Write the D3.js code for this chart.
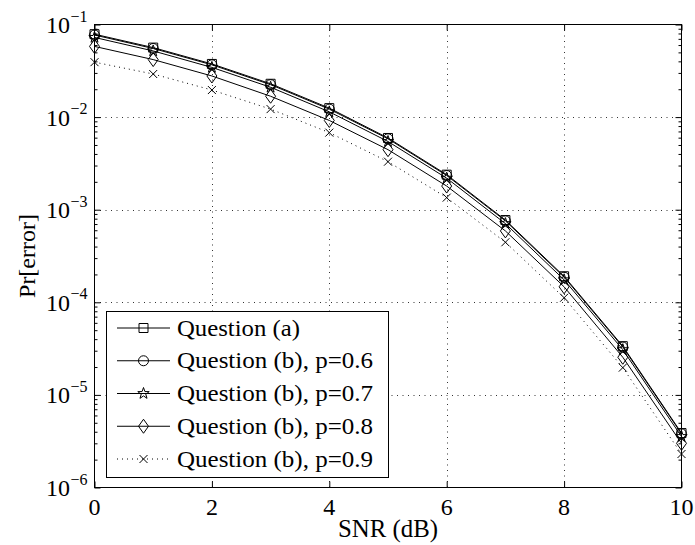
<!DOCTYPE html>
<html>
<head>
<meta charset="utf-8">
<script src="https://cdn.jsdelivr.net/npm/d3@7"></script>
<style>
  body { margin: 0; background: #fff; }
  svg { display: block; }
  text { font-family: "Liberation Serif", "Times New Roman", Times, serif; fill: #000; }
</style>
</head>
<body>
<svg id="chart" width="695" height="545"></svg>
<script>
// SNR in dB and error probabilities for each case
const snrDb = [0, 1, 2, 3, 4, 5, 6, 7, 8, 9, 10];
const questionA = [0.0786, 0.0563, 0.0375, 0.0229, 0.0125, 0.00595, 0.00239, 0.000773, 0.000191, 3.36e-5, 3.87e-6];
const questionB06 = [0.0770, 0.0551, 0.0367, 0.0224, 0.0122, 0.00583, 0.00234, 0.000758, 0.000187, 3.29e-5, 3.80e-6];
const questionB07 = [0.0725, 0.0518, 0.0344, 0.0210, 0.0114, 0.00545, 0.00219, 0.000708, 0.000175, 3.08e-5, 3.55e-6];
const questionB08 = [0.0580, 0.0418, 0.0278, 0.0168, 0.0092, 0.00445, 0.00180, 0.000590, 0.000147, 2.55e-5, 3.00e-6];
const questionB09 = [0.0392, 0.0292, 0.0196, 0.0122, 0.0068, 0.00330, 0.00135, 0.000445, 0.000112, 1.97e-5, 2.30e-6];

const legendLabels = ["Question (a)", "Question (b), p=0.6", "Question (b), p=0.7", "Question (b), p=0.8", "Question (b), p=0.9"];
const markerTypes = ["square", "circle", "star", "diamond", "cross"];
const lineDashes = [null, null, null, null, "1,4"];
const xTickValues = [0, 2, 4, 6, 8, 10];
const yExponents = [-1, -2, -3, -4, -5, -6];

const seriesValues = [questionA, questionB06, questionB07, questionB08, questionB09];
const series = seriesValues.map((vals, i) => ({
  label: legendLabels[i],
  marker: markerTypes[i],
  dash: lineDashes[i],
  points: snrDb.map((s, j) => ({ snr: s, p: vals[j] }))
}));

const svg = d3.select("#chart");
const box = { left: 94.5, right: 681.5, top: 24.5, bottom: 487.5 };

const x = d3.scaleLinear().domain([0, 10]).range([box.left, box.right]);
const y = d3.scaleLog().domain([1e-6, 1e-1]).range([box.bottom, box.top]);

// marker shapes (hollow, black outline)
function markerPath(type) {
  switch (type) {
    case "square": return "M-4.5,-4.5h9v9h-9Z";
    case "diamond": return "M0,-7L5,0L0,7L-5,0Z";
    case "cross": return "M-4,-4L4,4M-4,4L4,-4";
    case "star": {
      const pts = [];
      for (let k = 0; k < 10; k++) {
        const r = k % 2 === 0 ? 6 : 2.4;
        const a = -Math.PI / 2 + k * Math.PI / 5;
        pts.push([r * Math.cos(a), r * Math.sin(a)]);
      }
      return "M" + pts.map(p => p[0].toFixed(2) + "," + p[1].toFixed(2)).join("L") + "Z";
    }
    default: return null;
  }
}
function drawMarker(g, type, cx, cy) {
  if (type === "circle") {
    g.append("circle").attr("cx", cx).attr("cy", cy).attr("r", 5)
      .attr("fill", "none").attr("stroke", "#000").attr("stroke-width", 1);
  } else {
    g.append("path").attr("d", markerPath(type))
      .attr("transform", `translate(${cx},${cy})`)
      .attr("fill", "none").attr("stroke", "#000").attr("stroke-width", 1);
  }
}

// dotted grid at major ticks
const grid = svg.append("g").attr("stroke", "#000").attr("stroke-width", 0.8).attr("stroke-dasharray", "1,4.5");
xTickValues.slice(1, -1).forEach(v => {
  grid.append("line").attr("x1", Math.round(x(v)) + 0.5).attr("x2", Math.round(x(v)) + 0.5)
    .attr("y1", box.top).attr("y2", box.bottom);
});
yExponents.slice(1, -1).forEach(e => {
  const yy = Math.round(y(Math.pow(10, e))) + 0.5;
  grid.append("line").attr("x1", box.left).attr("x2", box.right).attr("y1", yy).attr("y2", yy);
});

// curves
const line = d3.line().x(d => x(d.snr)).y(d => y(d.p));
const curves = svg.append("g");
series.forEach(s => {
  curves.append("path").datum(s.points).attr("d", line)
    .attr("fill", "none").attr("stroke", "#000").attr("stroke-width", 1)
    .attr("stroke-dasharray", s.dash);
  s.points.forEach(d => drawMarker(curves, s.marker, x(d.snr), y(d.p)));
});

// axes: inward ticks on all four sides
const minorVals = [];
for (let e = -6; e < -1; e++) for (let k = 2; k <= 9; k++) minorVals.push(k * Math.pow(10, e));
const majorVals = yExponents.map(e => Math.pow(10, e));

function axisGroup(axis, tx, ty) {
  const g = svg.append("g").attr("transform", `translate(${tx},${ty})`).call(axis);
  g.select(".domain").remove();
  g.selectAll("text").remove();
  g.selectAll("line").attr("stroke", "#000").attr("stroke-width", 1);
  return g;
}
axisGroup(d3.axisBottom(x).tickValues(xTickValues).tickSizeInner(-6).tickSizeOuter(0), 0, box.bottom);
axisGroup(d3.axisTop(x).tickValues(xTickValues).tickSizeInner(-6).tickSizeOuter(0), 0, box.top);
axisGroup(d3.axisLeft(y).tickValues(majorVals).tickSizeInner(-6).tickSizeOuter(0), box.left, 0);
axisGroup(d3.axisRight(y).tickValues(majorVals).tickSizeInner(-6).tickSizeOuter(0), box.right, 0);
axisGroup(d3.axisLeft(y).tickValues(minorVals).tickSizeInner(-3).tickSizeOuter(0), box.left, 0);
axisGroup(d3.axisRight(y).tickValues(minorVals).tickSizeInner(-3).tickSizeOuter(0), box.right, 0);

svg.append("rect").attr("x", box.left).attr("y", box.top)
  .attr("width", box.right - box.left).attr("height", box.bottom - box.top)
  .attr("fill", "none").attr("stroke", "#000").attr("stroke-width", 1);

// tick labels
xTickValues.forEach(v => {
  svg.append("text").attr("x", x(v)).attr("y", 515).attr("text-anchor", "middle")
    .attr("font-size", 24).text(v);
});
yExponents.forEach(e => {
  const yy = y(Math.pow(10, e));
  svg.append("text").attr("x", 70).attr("y", yy + 8.5).attr("text-anchor", "end")
    .attr("font-size", 24).text("10");
  svg.append("text").attr("x", 70.5).attr("y", yy - 3).attr("text-anchor", "start")
    .attr("font-size", 16).text("\u2212" + Math.abs(e));
});

// axis titles
svg.append("text").attr("x", (box.left + box.right) / 2).attr("y", 537)
  .attr("text-anchor", "middle").attr("font-size", 25)
  .attr("textLength", 100).attr("lengthAdjust", "spacingAndGlyphs").text("SNR (dB)");
svg.append("text").attr("transform", `translate(35,${(box.top + box.bottom) / 2}) rotate(-90)`)
  .attr("text-anchor", "middle").attr("font-size", 24).text("Pr[error]");

// legend
const leg = { x: 106.5, y: 311.5, w: 282, h: 166, row0: 328, step: 32.75 };
const legendTextWidths = [123, 196, 196, 196, 196];
const lg = svg.append("g");
lg.append("rect").attr("x", leg.x).attr("y", leg.y).attr("width", leg.w).attr("height", leg.h)
  .attr("fill", "#fff").attr("stroke", "#000").attr("stroke-width", 1);
series.forEach((s, i) => {
  const cy = leg.row0 + i * leg.step;
  lg.append("line").attr("x1", 117).attr("x2", 170).attr("y1", cy).attr("y2", cy)
    .attr("stroke", "#000").attr("stroke-width", 1).attr("stroke-dasharray", s.dash);
  drawMarker(lg, s.marker, 143.5, cy);
  lg.append("text").attr("x", 177).attr("y", cy + 7.5).attr("font-size", 24)
    .attr("textLength", legendTextWidths[i]).attr("lengthAdjust", "spacingAndGlyphs")
    .text(s.label);
});
</script>
</body>
</html>
